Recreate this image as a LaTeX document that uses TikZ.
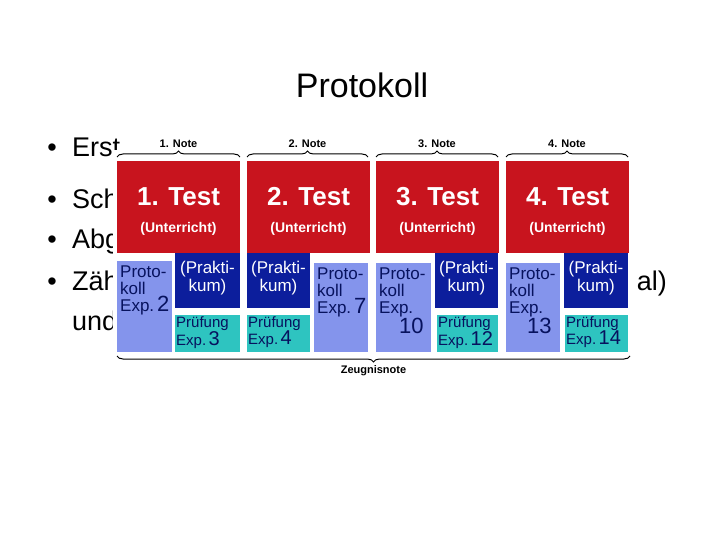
\documentclass[tikz,border=0pt]{standalone}
\usepackage{fontspec}
\setmainfont{Liberation Sans}
\usetikzlibrary{decorations.pathreplacing}
\definecolor{tred}{HTML}{C8141E}
\definecolor{dblue}{HTML}{0C1E9C}
\definecolor{lblue}{HTML}{8494EC}
\definecolor{teal2}{HTML}{2EC4C0}
\begin{document}
\begin{tikzpicture}[x=1pt,y=-1pt,
  box/.style={anchor=north west,inner sep=0pt,outer sep=0pt},
  bul/.style={anchor=base west,font=\fontsize{27}{30}\selectfont,inner sep=0pt},
  lab/.style={anchor=north west,inner sep=0pt,align=left,font=\fontsize{17}{17}\selectfont},
  brc/.style={decorate,decoration={brace,amplitude=6pt},line width=1pt},
  note/.style={font=\bfseries\fontsize{11}{12}\selectfont,inner sep=0pt}]
\useasboundingbox (0,0) rectangle (720,540);
\node[font=\fontsize{34}{38}\selectfont] (title) at (362,85) {Protokoll};
\foreach \yy/\tt [count=\i] in {157/Erst,208/Sch,248/Abg,290/Zäh,330/und}{
  \node[bul] (b\i) at (72,\yy) {\tt};}
\foreach \yy [count=\i] in {157,208,248,290}{\node[bul,anchor=base] (d\i) at (52,\yy) {•};}
\node[bul,anchor=base east] (al) at (667,290) {al)};
\fill[white] (113,150) rectangle (634,380);
% braces
\draw[brc] (117,157) -- (240,157) node[note,midway,above=9pt] (n1) {1. Note};
\draw[brc] (247,157) -- (368,157) node[note,midway,above=9pt] (n2) {2. Note};
\draw[brc] (376,157) -- (498,157) node[note,midway,above=9pt] (n3) {3. Note};
\draw[brc] (506,157) -- (628,157) node[note,midway,above=9pt] (n4) {4. Note};
\draw[brc] (630,356) -- (117,356) node[note,pos=0.5,below=9pt] (z) {Zeugnisnote};
% red tests
\foreach \x/\n in {117/1,247/2,376/3,506/4}{
  \fill[tred] (\x,161) rectangle ++(123,92);
  \node[white,font=\bfseries\fontsize{26}{28}\selectfont] (t\n) at (\x+61.5,197) {\n. Test};
  \node[white,font=\bfseries\fontsize{14}{15}\selectfont] (u\n) at (\x+61.5,229) {(Unterricht)};
}
% protokoll boxes
\foreach \x/\y/\w/\n/\e [count=\i] in {117/261/55/2/{Exp.\,{\fontsize{22}{22}\selectfont 2}},314/263/54/7/{Exp.\,{\fontsize{22}{22}\selectfont 7}},376/263/55/10/{Exp.\\\hspace*{20pt}{\fontsize{22}{22}\selectfont 10}},506/263/54/13/{Exp.\\\hspace*{18pt}{\fontsize{22}{22}\selectfont 13}}}{
  \fill[lblue] (\x,\y) rectangle (\x+\w,352);
  \node[lab,text=dblue!60!black] (p\i) at (\x+3,\y+5) {Proto-\\koll\\\e};
}
% praktikum
\foreach \x/\w [count=\i] in {175/65,247/63,435/63,564/64}{
  \fill[dblue] (\x,253) rectangle (\x+\w,308);
  \node[white,align=center,font=\fontsize{17}{18}\selectfont,inner sep=0pt] (k\i) at (\x+\w/2,278) {(Prakti-\\kum)};
}
% pruefung
\foreach \x/\w/\n [count=\i] in {175/65/3,247/63/4,437/61/12,565/63/14}{
  \fill[teal2] (\x,315) rectangle (\x+\w,352);
  \node[lab,text=dblue!60!black,font=\fontsize{15}{16}\selectfont] (r\i) at (\x+1,316) {Prüfung\\Exp.\,{\fontsize{20}{20}\selectfont\n}};
}
\end{tikzpicture}
\end{document}
